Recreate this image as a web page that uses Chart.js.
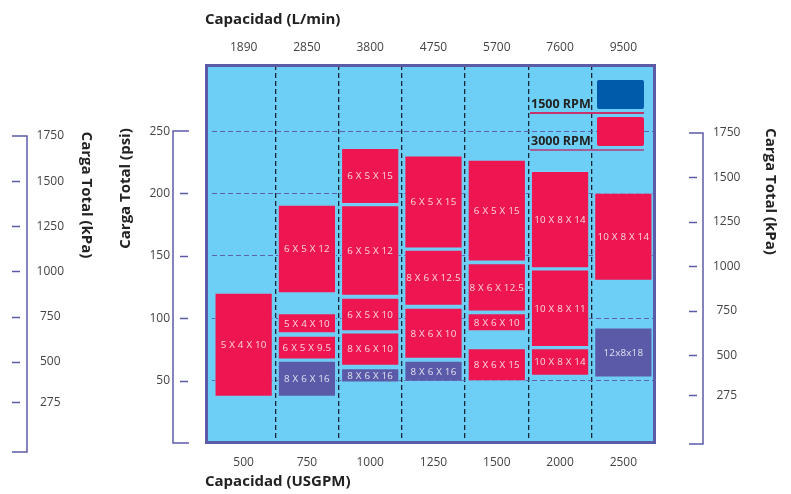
<!DOCTYPE html>
<html><head><meta charset="utf-8">
<script src="https://cdn.jsdelivr.net/npm/chart.js@4.4.1/dist/chart.umd.min.js"></script>
<style>html,body{margin:0;padding:0;background:#fff;}canvas{display:block;}</style>
</head><body>
<canvas id="c" width="791" height="494"></canvas>
<script>
// ---------- data ----------
const capUSGPM = ['500','750','1000','1250','1500','2000','2500'];
const capLmin  = ['1890','2850','3800','4750','5700','7600','9500'];
const psiTicks = [50,100,150,200,250];
const kpaTicks = [1750,1500,1250,1000,750,500,275];

// 3000 RPM boxes: [low, high] in psi, per column, from top tier down
const rpm3000TierA = [[37,120.5],[120,191],[191.5,236.5],[156,230.5],[145.5,227],[140,218],[130,200.5]];
const rpm3000TierALabels = ['5 X 4 X 10','6 X 5 X 12','6 X 5 X 15','6 X 5 X 15','6 X 5 X 15','10 X 8 X 14','10 X 8 X 14'];
const rpm3000TierB = [null,[88,104],[118,190.5],[110,155],[105.5,144],[77,139],null];
const rpm3000TierBLabels = ['','5 X 4 X 10','6 X 5 X 12','8 X 6 X 12.5','8 X 6 X 12.5','10 X 8 X 11',''];
const rpm3000TierC = [null,[67,86],[89.5,116.5],[67.5,108.5],[89.5,104],[54,76],null];
const rpm3000TierCLabels = ['','6 X 5 X 9.5','6 X 5 X 10','8 X 6 X 10','8 X 6 X 10','10 X 8 X 14',''];
const rpm3000TierD = [null,null,[62,88.5],null,[49.5,76],null,null];
const rpm3000TierDLabels = ['','','8 X 6 X 10','','8 X 6 X 15','',''];
// 1500 RPM boxes
const rpm1500 = [null,[37,66],[48.5,60],[49,66],null,null,[52.5,92.5]];
const rpm1500Labels = ['','8 X 6 X 16','8 X 6 X 16','8 X 6 X 16','','','12x8x18'];

const legendNames = ['1500 RPM','3000 RPM'];

// ---------- style ----------
const RED = '#ED1650', PURPLE = '#5A5AA8', LEGBLUE = '#005BAA', BG = '#6DCFF6', AXIS = '#5B5BA8';
const FONT = "'Open Sans', sans-serif";
Chart.defaults.font.family = FONT;

function ds(data, labels, color) {
  return { data, boxLabels: labels, backgroundColor: color, borderColor: 'rgba(120,205,245,0.95)', borderWidth: 1,
    borderSkipped: false, grouped: false, barPercentage: 0.92, categoryPercentage: 1, xAxisID: 'x', yAxisID: 'y' };
}
function noPad(sc) { sc.paddingTop = 0; sc.paddingBottom = 0; sc.paddingLeft = 0; sc.paddingRight = 0; }

const deco = {
  id: 'deco',
  beforeDraw(chart) {
    const {ctx, chartArea: a} = chart;
    ctx.save();
    ctx.fillStyle = BG;
    ctx.fillRect(a.left - 5.5, a.top + 0.5, a.right - a.left + 5, a.bottom - a.top - 1);
    ctx.restore();
  },
  afterDatasetsDraw(chart) {
    const {ctx, chartArea: a} = chart;
    ctx.save();
    // box labels
    ctx.font = '9.8px ' + FONT;
    if ('letterSpacing' in ctx) ctx.letterSpacing = '0.2px';
    ctx.textAlign = 'center'; ctx.textBaseline = 'middle';
    ctx.fillStyle = 'rgba(255,255,255,0.82)';
    chart.data.datasets.forEach((d, i) => {
      const meta = chart.getDatasetMeta(i);
      meta.data.forEach((el, j) => {
        const t = d.boxLabels[j];
        if (!t || d.data[j] == null) return;
        const p = el.getProps(['x','y','base'], true);
        ctx.fillText(t, p.x, (p.y + p.base) / 2 + 0.5);
      });
    });
    if ('letterSpacing' in ctx) ctx.letterSpacing = '0px';
    // plot frame
    ctx.strokeStyle = AXIS; ctx.lineWidth = 3;
    ctx.strokeRect(a.left - 5.5, a.top + 0.5, a.right - a.left + 5, a.bottom - a.top - 1);
    // legend
    const R = a.right - 11;
    const rows = [{name: legendNames[0], col: LEGBLUE, line: '#C8326A', top: a.top + 15},
                  {name: legendNames[1], col: RED, line: '#A45E98', top: a.top + 52}];
    rows.forEach(r => {
      ctx.fillStyle = r.col;
      ctx.beginPath(); ctx.roundRect(R - 47, r.top, 47, 29, 2); ctx.fill();
      ctx.strokeStyle = r.line; ctx.lineWidth = 2;
      ctx.beginPath(); ctx.moveTo(R - 114, r.top + 33); ctx.lineTo(R, r.top + 33); ctx.stroke();
      ctx.fillStyle = '#222'; ctx.font = 'bold 12.5px ' + FONT;
      ctx.textAlign = 'left'; ctx.textBaseline = 'middle';
      ctx.fillText(r.name, R - 113, r.top + 24);
    });
    ctx.restore();
  },
  afterDraw(chart) {
    const {ctx} = chart;
    const s = chart.scales;
    ctx.save();
    ctx.strokeStyle = AXIS; ctx.lineWidth = 1.5;
    function bracket(scale, topVal, xLine, xSerif, xt0, xt1, ticks) {
      const yT = scale.getPixelForValue(topVal), yB = scale.getPixelForValue(0);
      ctx.beginPath();
      ctx.moveTo(xSerif, yT); ctx.lineTo(xLine, yT); ctx.lineTo(xLine, yB); ctx.lineTo(xSerif, yB);
      ctx.stroke();
      ticks.filter(v => v !== topVal).forEach(v => {
        const y = Math.round(scale.getPixelForValue(v)) + 0.5;
        ctx.beginPath(); ctx.moveTo(xt0, y); ctx.lineTo(xt1, y); ctx.stroke();
      });
    }
    bracket(s.y, 250, 173, 189, 180, 188, psiTicks);
    bracket(s.yk, 1750, 27, 12, 12, 20, kpaTicks);
    bracket(s.yk2, 1750, 703, 689, 689, 697, kpaTicks);
    // titles
    ctx.fillStyle = '#222';
    ctx.font = 'bold 15px ' + FONT;
    ctx.textAlign = 'left'; ctx.textBaseline = 'alphabetic';
    ctx.fillText('Capacidad (L/min)', 205, 24);
    ctx.fillText('Capacidad (USGPM)', 205, 486);
    ctx.textAlign = 'center'; ctx.textBaseline = 'middle';
    function rot(t, x, y, ang) { ctx.save(); ctx.translate(x, y); ctx.rotate(ang); ctx.fillText(t, 0, 0); ctx.restore(); }
    rot('Carga Total (psi)', 126, 188.5, -Math.PI / 2);
    rot('Carga Total (kPa)', 86, 195, Math.PI / 2);
    rot('Carga Total (kPa)', 770, 191.5, Math.PI / 2);
    ctx.restore();
  }
};

const tickFont = {size: 12, family: FONT};
const plain = v => String(v);
new Chart(document.getElementById('c'), {
  type: 'bar',
  data: {
    labels: capUSGPM,
    datasets: [
      ds(rpm3000TierA, rpm3000TierALabels, RED),
      ds(rpm3000TierB, rpm3000TierBLabels, RED),
      ds(rpm3000TierC, rpm3000TierCLabels, RED),
      ds(rpm3000TierD, rpm3000TierDLabels, RED),
      ds(rpm1500, rpm1500Labels, PURPLE)
    ]
  },
  plugins: [deco],
  options: {
    responsive: false, animation: false,
    layout: {padding: 0},
    plugins: {legend: {display: false}, tooltip: {enabled: false}},
    scales: {
      x: {
        position: 'bottom', offset: true,
        grid: {offset: true, drawTicks: false, lineWidth: 1.3,
          color: c => (c.index === undefined || c.index === 0) ? 'rgba(0,0,0,0)' : '#1d2636'},
        border: {display: false, dash: [5, 3]},
        ticks: {padding: 12, color: '#444', font: tickFont},
        afterFit: sc => { sc.height = 51; noPad(sc); }
      },
      x2: {
        type: 'category', labels: capLmin, position: 'top', offset: true,
        grid: {display: false, drawTicks: false}, border: {display: false},
        ticks: {padding: 10, color: '#444', font: tickFont},
        afterFit: sc => { sc.height = 65; noPad(sc); }
      },
      y: {
        position: 'left', weight: 0, min: 0, max: 303,
        afterBuildTicks: sc => { sc.ticks = psiTicks.map(v => ({value: v})); },
        grid: {drawTicks: false, color: '#6060B0', lineWidth: 1},
        border: {display: false, dash: [5, 3]},
        ticks: {padding: 42, color: '#444', font: tickFont, callback: plain},
        afterFit: sc => { sc.width = 112; noPad(sc); }
      },
      yk: {
        position: 'left', weight: 1, min: 49.8, max: 2143.2,
        afterBuildTicks: sc => { sc.ticks = kpaTicks.map(v => ({value: v})); },
        grid: {display: false, drawTicks: false}, border: {display: false},
        ticks: {padding: 36, crossAlign: 'center', color: '#444', font: tickFont, callback: plain},
        afterFit: sc => { sc.width = 100; noPad(sc); }
      },
      yk2: {
        position: 'right', min: 5.6, max: 2132.6,
        afterBuildTicks: sc => { sc.ticks = kpaTicks.map(v => ({value: v})); },
        grid: {display: false, drawTicks: false}, border: {display: false},
        ticks: {padding: 58, crossAlign: 'center', color: '#444', font: tickFont, callback: plain},
        afterFit: sc => { sc.width = 136; noPad(sc); }
      }
    }
  }
});
</script>
</body></html>
